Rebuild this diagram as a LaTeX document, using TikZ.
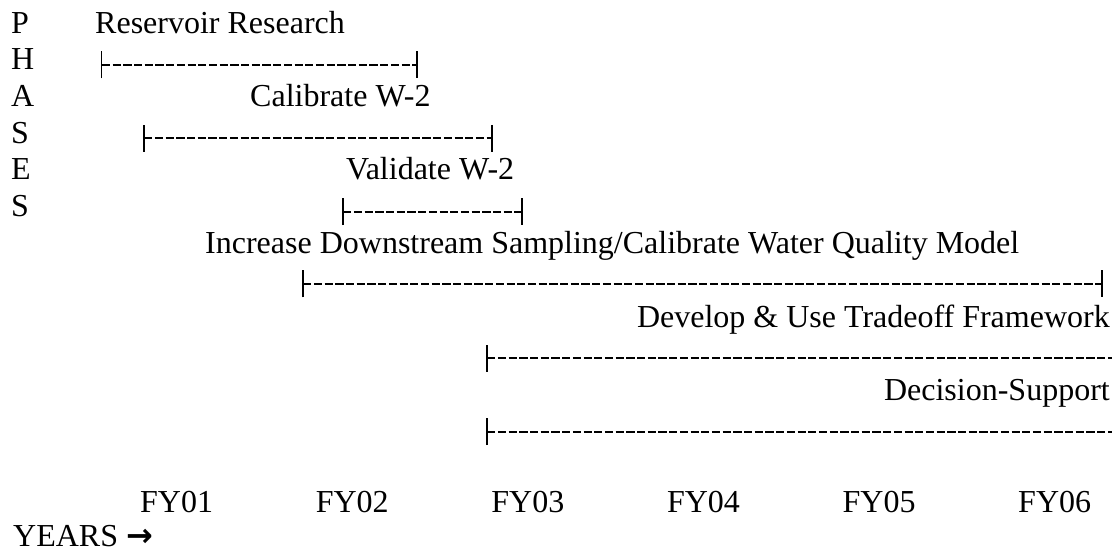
\documentclass[tikz,border=0pt]{standalone}
\usepackage{fontspec}
\setmainfont{Liberation Serif}
\newfontfamily\arrowfont{DejaVu Sans}
\usetikzlibrary{arrows.meta}

\tikzset{
  lbl/.style={anchor=base west, inner sep=0pt, font=\fontsize{32}{37}\selectfont},
  lblr/.style={lbl, anchor=base east},
  tick/.tip={Bar[width=27pt, line width=1.6pt]},
  phasebar/.style={line width=2pt, dash pattern=on 8.2pt off 2.5pt}
}

\begin{document}
\begin{tikzpicture}[x=1pt, y=-1pt]

% page frame
\useasboundingbox (0,0) rectangle (1112,553);

% "PHASES" down the left edge
\foreach \ch [count=\i from 0] in {P,H,A,S,E,S}
  \node[lbl] (ph\i) at (11, {33.3+36.67*\i}) {\ch};

% Reservoir Research
\node[lbl] (resv) at (95,33.3) {Reservoir Research};
\coordinate (resv-s) at (100.7,65);
\coordinate (resv-e) at (418,65);
\draw[phasebar, tick-tick] (resv-s) -- (resv-e);

% Calibrate W-2
\node[lbl] (calib) at (250,106.6) {Calibrate W-2};
\coordinate (calib-s) at (143,138.3);
\coordinate (calib-e) at (493,138.3);
\draw[phasebar, tick-tick] (calib-s) -- (calib-e);

% Validate W-2
\node[lbl] (valid) at (346,180) {Validate W-2};
\coordinate (valid-s) at (342,211.7);
\coordinate (valid-e) at (523,211.7);
\draw[phasebar, tick-tick] (valid-s) -- (valid-e);

% Downstream sampling / water quality model
\node[lbl] (wqm) at (205,254) {Increase Downstream Sampling/Calibrate Water Quality Model};
\coordinate (wqm-s) at (302,284);
\coordinate (wqm-e) at (1103,284);
\draw[phasebar, tick-tick] (wqm-s) -- (wqm-e);

% Tradeoff framework (runs off the right edge)
\node[lblr] (trade) at (1110,328) {Develop \& Use Tradeoff Framework};
\coordinate (trade-s) at (486,358.3);
\coordinate (trade-e) at (1112,358.3);
\draw[phasebar, tick-] (trade-s) -- (trade-e);

% Decision support (runs off the right edge)
\node[lblr] (dss) at (1110,400.5) {Decision-Support};
\coordinate (dss-s) at (486,431.7);
\coordinate (dss-e) at (1112,431.7);
\draw[phasebar, tick-] (dss-s) -- (dss-e);

% fiscal years
\foreach \yr [count=\i from 0] in {01,02,03,04,05,06}
  \node[lbl] (fy\yr) at ({140+175.6*\i}, 512) {FY\yr};

% axis label
\node[lbl] (years) at (13,546) {YEARS {\arrowfont\bfseries →}};

\end{tikzpicture}
\end{document}
